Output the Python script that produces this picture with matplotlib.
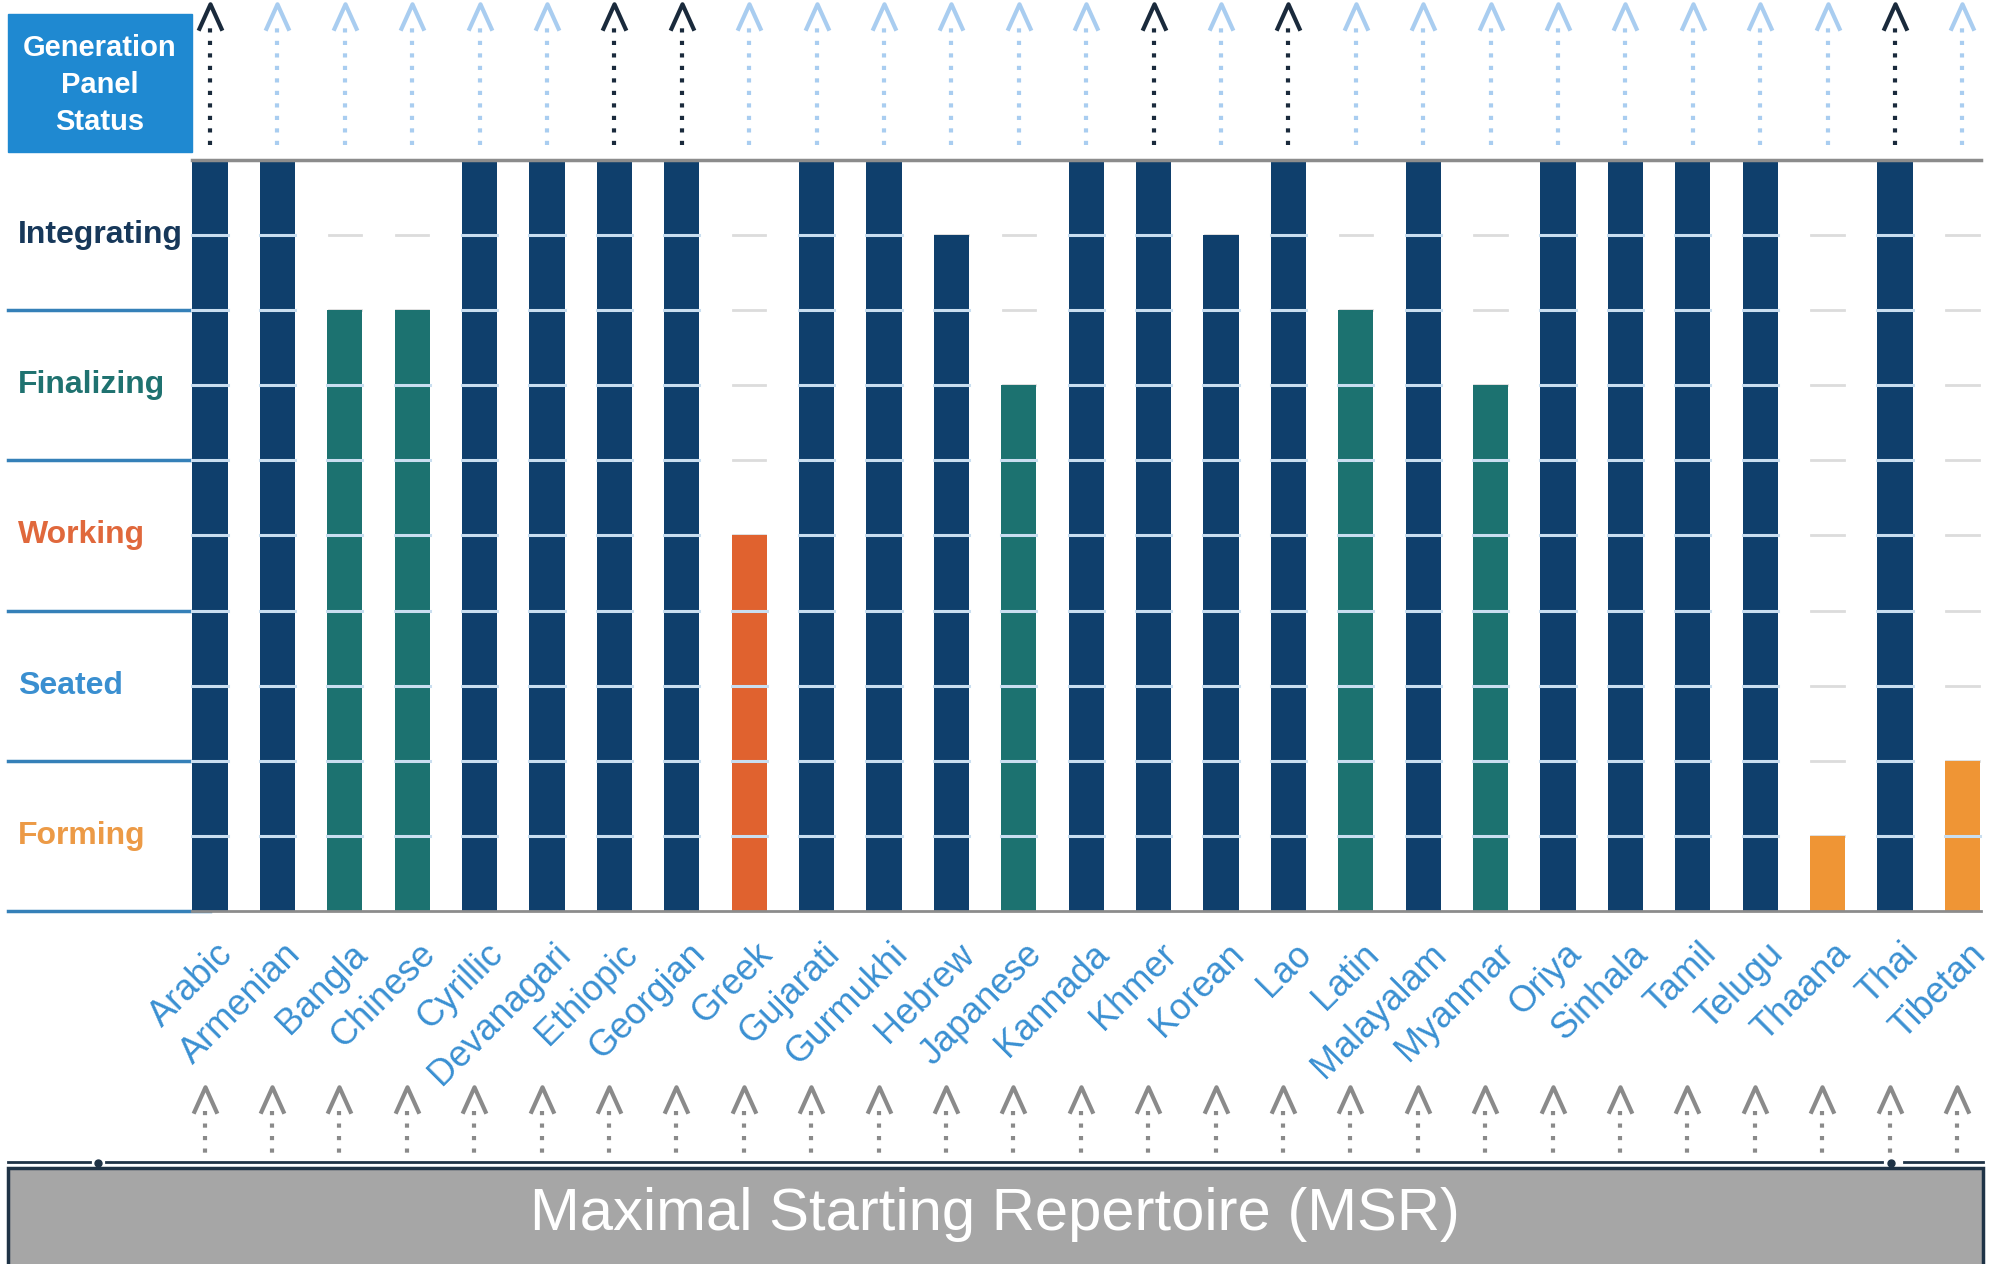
import matplotlib
matplotlib.use('Agg')
import matplotlib.pyplot as plt
from matplotlib.path import Path
from matplotlib.patches import Rectangle

# scripts of the MSR and the generation panel status (in stage units 0..5)
scripts = ['Arabic', 'Armenian', 'Bangla', 'Chinese', 'Cyrillic', 'Devanagari',
           'Ethiopic', 'Georgian', 'Greek', 'Gujarati', 'Gurmukhi', 'Hebrew',
           'Japanese', 'Kannada', 'Khmer', 'Korean', 'Lao', 'Latin',
           'Malayalam', 'Myanmar', 'Oriya', 'Sinhala', 'Tamil', 'Telugu',
           'Thaana', 'Thai', 'Tibetan']
progress = [5, 5, 4, 4, 5, 5, 5, 5, 2.5, 5, 5, 4.5, 3.5, 5, 5, 4.5, 5, 4,
            5, 3.5, 5, 5, 5, 5, 0.5, 5, 1]
stage = ['Integrating', 'Integrating', 'Finalizing', 'Finalizing', 'Integrating',
         'Integrating', 'Integrating', 'Integrating', 'Working', 'Integrating',
         'Integrating', 'Integrating', 'Finalizing', 'Integrating', 'Integrating',
         'Integrating', 'Integrating', 'Finalizing', 'Integrating', 'Finalizing',
         'Integrating', 'Integrating', 'Integrating', 'Integrating', 'Forming',
         'Integrating', 'Forming']
# scripts whose top arrow is drawn dark
integrated = ['Arabic', 'Ethiopic', 'Georgian', 'Khmer', 'Lao', 'Thai']

stage_names = ['Forming', 'Seated', 'Working', 'Finalizing', 'Integrating']
label_colors = {'Forming': '#ec9a46', 'Seated': '#3a8fd0', 'Working': '#e0683c',
                'Finalizing': '#1f7270', 'Integrating': '#17385a'}
bar_colors = {'Integrating': '#0f3f6c', 'Finalizing': '#1c7270',
              'Working': '#e0622f', 'Forming': '#ef9535'}

sans = ['Liberation Sans', 'DejaVu Sans']

fig = plt.figure(figsize=(19.93, 12.64), dpi=100)
ax = fig.add_axes([0, 0, 1, 1])
ax.set_xlim(-3.116, 26.454)
ax.set_ylim(-2.350, 6.065)
ax.axis('off')

xs = list(range(len(scripts)))
bw = 0.52

# faint grid dashes in every slot, bars on top, white dashes inside bars
half_levels = [i * 0.5 for i in range(1, 10)]
for x, v in zip(xs, progress):
    for lv in half_levels:
        ax.plot([x - 0.24, x + 0.24], [lv, lv], color='#dcdcdc', lw=2, zorder=1)
ax.bar(xs, progress, width=bw, color=[bar_colors[s] for s in stage], zorder=2)
for x, v in zip(xs, progress):
    for lv in half_levels:
        if lv < v:
            ax.plot([x - bw / 2, x + bw / 2], [lv, lv], color='#c9def0', lw=2.2, zorder=3)

# frame lines
ax.plot([-0.26, 26.27], [5, 5], color='#8c8c8c', lw=2.5, zorder=4)
ax.plot([-0.26, 26.27], [0, 0], color='#8c8c8c', lw=2, zorder=4)
for k in range(5):
    ax.plot([-3.0, 0.0], [k, k], color='#3580b8', lw=2.5, zorder=1.5)

# stage labels
for k, name in enumerate(stage_names):
    ax.text(-2.85, k + 0.5, name, color=label_colors[name], fontsize=23,
            fontweight='bold', family=sans, ha='left', va='center')

# status box
ax.add_patch(Rectangle((-3.0, 5.053), 2.73, 0.917, color='#1f89d1', zorder=2))
ax.text(-1.632, 5.50, 'Generation\nPanel\nStatus', color='white', fontsize=21,
        fontweight='bold', family=sans, ha='center', va='center', linespacing=1.4)

# arrows
chevron = Path([(-0.45, -0.5), (0, 0.5), (0.45, -0.5)],
               [Path.MOVETO, Path.LINETO, Path.LINETO])
for x, name in zip(xs, scripts):
    c = '#1a2a3c' if name in integrated else '#a9cdf0'
    ax.plot([x, x], [5.10, 5.88], color=c, lw=3, linestyle=(0, (1, 2)), zorder=3)
    ax.plot([x], [5.955], marker=chevron, markersize=19, markerfacecolor='none',
            markeredgecolor=c, markeredgewidth=3, zorder=3)
    xb = x - 0.08
    ax.plot([xb, xb], [-1.33, -1.61], color='#8a8a8a', lw=3, linestyle=(0, (1, 2)), zorder=3)
    ax.plot([xb], [-1.258], marker=chevron, markersize=19, markerfacecolor='none',
            markeredgecolor='#8a8a8a', markeredgewidth=3, zorder=3)

# tick labels
for x, name in zip(xs, scripts):
    ax.text(x + 0.08, -0.17, name, rotation=45, rotation_mode='anchor',
            ha='right', va='top', color='#3a90d2', fontsize=26, family=sans)

# MSR foundation
for a, b in [(-3.0, -1.78), (-1.54, 24.81), (25.13, 26.31)]:
    ax.plot([a, b], [-1.671, -1.671], color='#1f3346', lw=2, zorder=4)
ax.plot([-1.662, 24.94], [-1.68, -1.68], linestyle='none', marker='o',
        markersize=5, color='#1f3346', zorder=4)
ax.add_patch(Rectangle((-2.997, -2.40), 29.3, 0.69, facecolor='#a6a6a6',
                       edgecolor='#1f3346', lw=2.5, zorder=2))
ax.text(11.65, -2.02, 'Maximal Starting Repertoire (MSR)', color='white',
        fontsize=43, family=sans, ha='center', va='center')

fig.savefig('out.png', dpi=100)
